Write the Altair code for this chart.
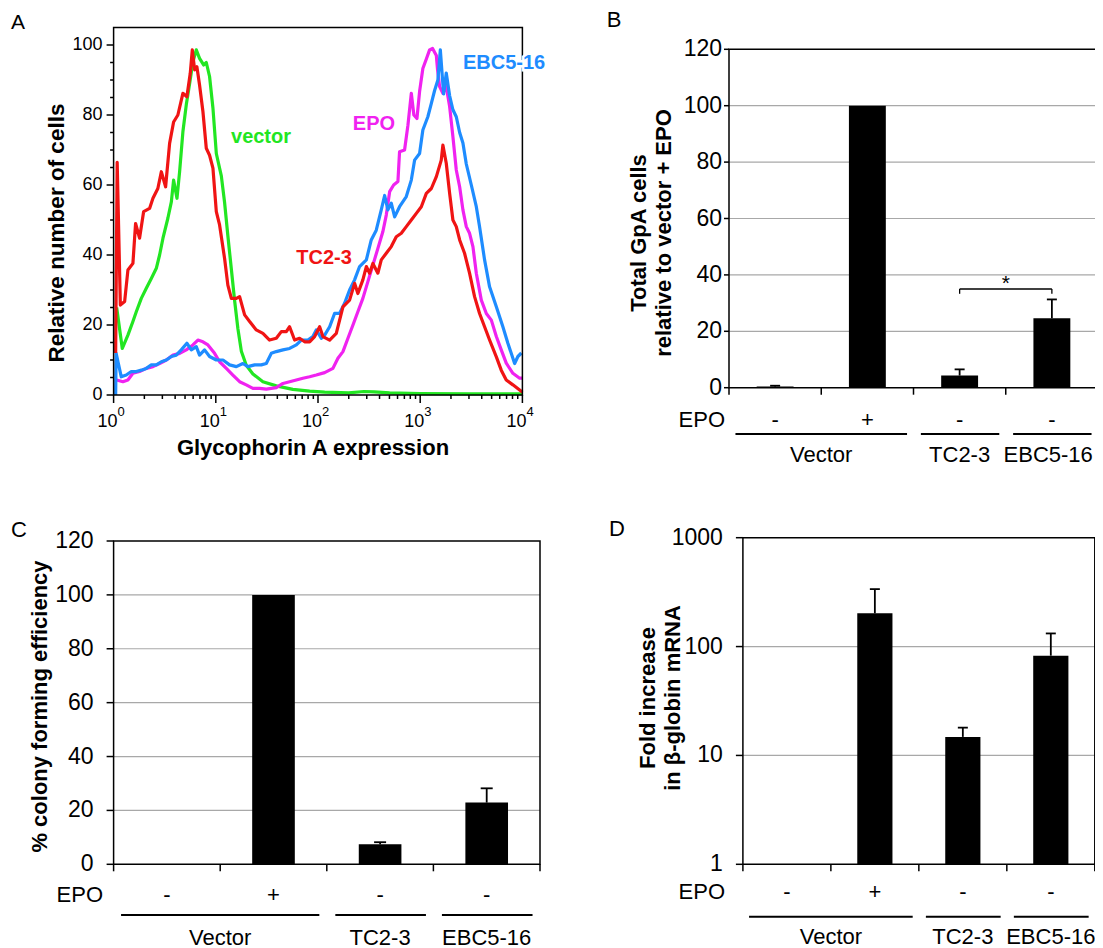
import altair as alt
import pandas as pd

# ---------------- Panel A: GpA histograms (x = log10 expression, y = relative cells) ----------------
vector_lx = [0.030, 0.085, 0.140, 0.189, 0.222, 0.271, 0.320, 0.369, 0.418, 0.450, 0.483, 0.531, 0.565, 0.587,
             0.620, 0.646, 0.678, 0.711, 0.744, 0.776, 0.809, 0.841, 0.881, 0.907, 0.939, 0.972, 1.005, 1.054,
             1.086, 1.118, 1.152, 1.184, 1.216, 1.250, 1.298, 1.363, 1.461, 1.592, 1.754, 1.918, 2.065, 2.300,
             2.450, 2.550, 2.700, 3.000, 3.500, 4.000]
vector_y = [25, 13.3, 17.1, 21, 23.8, 27.6, 30.5, 33.3, 36.2, 40, 44.8, 50.5, 55.2, 61.4, 56.2, 63.8, 75.2, 82.9,
            89, 95.2, 98.6, 96.2, 94.3, 95, 91, 82, 69, 62.6, 55, 45.5, 36, 27, 19, 12.5, 8.5, 6, 3.8, 2.6, 1.6,
            1.1, 0.8, 0.6, 1.0, 0.9, 0.6, 0.4, 0.3, 0.3]

epo_lx = [0.030, 0.091, 0.140, 0.189, 0.254, 0.320, 0.385, 0.450, 0.516, 0.581, 0.646, 0.711, 0.776, 0.825, 0.874,
          0.923, 0.988, 1.037, 1.103, 1.167, 1.233, 1.298, 1.363, 1.429, 1.494, 1.592, 1.657, 1.722, 1.788, 1.852,
          1.918, 1.983, 2.065, 2.146, 2.195, 2.244, 2.293, 2.342, 2.390, 2.439, 2.488, 2.537, 2.586, 2.635, 2.668,
          2.701, 2.740, 2.782, 2.798, 2.847, 2.880, 2.913, 2.938, 2.968, 2.994, 3.026, 3.060, 3.092, 3.121, 3.158,
          3.170, 3.190, 3.222, 3.255, 3.288, 3.320, 3.353, 3.386, 3.418, 3.451, 3.483, 3.516, 3.549, 3.598, 3.647,
          3.696, 3.745, 3.793, 3.842, 3.907, 3.973, 4.000]
epo_y = [4.3, 3.8, 4.3, 6.2, 6.7, 7.6, 8.1, 9, 10, 11.4, 11.9, 12.9, 14.3, 15.7, 15.2, 14.3, 11.9, 9.5, 7.6, 5.7,
         3.8, 2.9, 1.9, 1.9, 1.7, 2.1, 3.3, 3.8, 4.3, 4.8, 5.2, 5.7, 6.4, 7.6, 10.5, 12.4, 16.2, 20, 23.8, 27.6,
         32.4, 37.1, 41.9, 46.7, 51.4, 58.1, 60, 61, 69.5, 70, 77.1, 86.2, 80, 79, 86.7, 93.3, 96, 98.6, 99, 97,
         92.9, 88.1, 86.2, 88.1, 82.4, 73.8, 64.3, 59.5, 52.9, 48.1, 46.2, 42.4, 34.8, 27.1, 23.3, 21.4, 16.7,
         12.9, 9.1, 6.2, 4.8, 4.8]

tc_lx = [0.020, 0.035, 0.066, 0.108, 0.140, 0.189, 0.215, 0.254, 0.294, 0.352, 0.385, 0.433, 0.467, 0.509, 0.548,
         0.587, 0.629, 0.678, 0.717, 0.750, 0.770, 0.793, 0.815, 0.841, 0.874, 0.907, 0.939, 0.972, 1.005, 1.037,
         1.086, 1.118, 1.152, 1.201, 1.233, 1.282, 1.331, 1.396, 1.461, 1.526, 1.592, 1.641, 1.690, 1.722, 1.771,
         1.820, 1.869, 1.918, 1.967, 2.016, 2.048, 2.114, 2.179, 2.244, 2.309, 2.358, 2.390, 2.439, 2.473, 2.505,
         2.537, 2.586, 2.619, 2.668, 2.717, 2.766, 2.815, 2.864, 2.913, 2.962, 3.011, 3.060, 3.109, 3.158, 3.206,
         3.222, 3.255, 3.288, 3.320, 3.353, 3.386, 3.434, 3.483, 3.532, 3.581, 3.630, 3.679, 3.745, 3.793, 3.842,
         3.907, 3.973, 4.000]
tc_y = [12, 66.5, 25.7, 26.7, 35.7, 37.6, 49, 44.8, 52.4, 53.3, 56.2, 59, 63.8, 59.5, 71.9, 78, 80, 86.2, 85.2,
        91.9, 98.6, 92.9, 93.8, 88.6, 81, 70.5, 68.5, 64.8, 52.4, 48.6, 39, 31.4, 27.6, 27.6, 28.1, 22.9, 21, 18.6,
        17.6, 15.7, 16.2, 18.1, 18.1, 19.5, 15.7, 16.2, 15.2, 15.2, 16.7, 19.5, 16.7, 15.7, 17.6, 25.2, 27.1, 31.9,
        29, 32.9, 36.7, 34.8, 37.6, 34.8, 38.6, 40.5, 42.4, 45.2, 46.2, 48.1, 50, 51.9, 53.8, 57.6, 59, 62.4, 67.1,
        71.4, 66.2, 57.6, 50, 48.1, 44.3, 40.5, 34.8, 28.1, 23.3, 19.5, 15.7, 10.9, 7.1, 4.3, 2.9, 1.4, 0.8]

ebc_lx = [0.020, 0.025, 0.075, 0.124, 0.173, 0.222, 0.271, 0.320, 0.369, 0.418, 0.467, 0.516, 0.565, 0.613, 0.662,
          0.717, 0.760, 0.809, 0.841, 0.890, 0.939, 1.005, 1.070, 1.135, 1.201, 1.265, 1.314, 1.380, 1.445, 1.494,
          1.543, 1.592, 1.657, 1.722, 1.788, 1.837, 1.901, 1.950, 1.983, 2.032, 2.065, 2.114, 2.162, 2.211, 2.260,
          2.309, 2.358, 2.407, 2.473, 2.521, 2.570, 2.619, 2.652, 2.684, 2.717, 2.750, 2.798, 2.864, 2.913, 2.945,
          2.994, 3.026, 3.075, 3.109, 3.141, 3.173, 3.197, 3.229, 3.255, 3.288, 3.320, 3.353, 3.386, 3.418, 3.451,
          3.500, 3.549, 3.581, 3.630, 3.679, 3.745, 3.809, 3.858, 3.924, 3.956, 3.990]
ebc_y = [0, 11.9, 5.2, 5.7, 6.7, 6.7, 7.1, 7.6, 8.6, 8.6, 9.5, 10, 11, 11.4, 12.9, 14.8, 12.9, 13.8, 11.4, 12.9,
         11, 10, 10, 8.6, 8.1, 9, 8.1, 8.6, 8.6, 9, 11.9, 12.4, 12.9, 13.3, 14.3, 15.7, 15.7, 16.7, 18.6, 16.2,
         17.1, 19.5, 23.3, 23.3, 26.2, 30, 32.9, 36.7, 38.6, 44.3, 47.1, 52.9, 57, 52.9, 54.8, 50.9, 53.8, 56.7,
         61.4, 67.1, 69, 75.7, 79.5, 83.3, 87, 90, 98.6, 86, 92, 85.5, 81.5, 79.5, 75, 72, 66, 60, 53.8, 48.1,
         38.6, 30.9, 25.2, 19.5, 14.8, 9, 11, 12]

a_y_major = [0, 20, 40, 60, 80, 100]
a_y_minor = [5, 10, 15, 25, 30, 35, 45, 50, 55, 65, 70, 75, 85, 90, 95]
a_x_major = [1, 10, 100, 1000, 10000]
a_x_exponents = ["0", "1", "2", "3", "4"]
a_x_minor = [2, 3, 4, 5, 6, 7, 8, 9, 20, 30, 40, 50, 60, 70, 80, 90,
             200, 300, 400, 500, 600, 700, 800, 900, 2000, 3000, 4000, 5000, 6000, 7000, 8000, 9000]

# ---------------- Panels B-D: bar charts ----------------
bar_positions = [0, 1, 2, 3]
epo_signs = ["-", "+", "-", "-"]
group_labels = ["Vector", "TC2-3", "EBC5-16"]
group_centers = [1.0, 2.5, 3.5]
group_centers_b = [1.0, 2.5, 3.46]
group_start = [0.07, 2.08, 3.08]
group_end = [1.93, 2.93, 3.93]
boundaries = [0, 1, 2, 3, 4]

b_values = [0.4, 100, 4.3, 24.6]
b_errors = [0.3, 0, 2.2, 6.7]
b_ticks = [0, 20, 40, 60, 80, 100, 120]
b_grid = [20, 40, 60, 80, 100]

c_values = [0, 100, 7.4, 22.9]
c_errors = [0, 0, 0.8, 5.3]
c_ticks = [0, 20, 40, 60, 80, 100, 120]
c_grid = [20, 40, 60, 80, 100]

d_values = [1, 202, 14.8, 82.5]
d_errors = [0, 135, 3.2, 49.5]
d_ticks = [1, 10, 100, 1000]
d_grid = [10, 100]

FONT = "Liberation Sans"
GRID = "#a8a8a8"
COL_VECTOR = "#22e622"
COL_EPO = "#f022f0"
COL_TC = "#f01414"
COL_EBC = "#1e8cff"


def P(v):
    return v - 8


def df(**cols):
    return pd.DataFrame(cols)


def xd(v, s):
    return alt.XDatum(v, type="quantitative", scale=s, axis=None)


def yd(v, s):
    return alt.YDatum(v, type="quantitative", scale=s, axis=None)


def xq(f, s):
    return alt.X(f, type="quantitative", scale=s, axis=None)


def yq(f, s):
    return alt.Y(f, type="quantitative", scale=s, axis=None)


def text_at(t, x, y, size=22, weight="normal", align="center", angle=0, color="black", baseline="middle"):
    mk = dict(font=FONT, fontSize=size, fontWeight=weight, align=align, baseline=baseline, color=color)
    if angle:
        mk["angle"] = angle
    return alt.Chart(df(t=[t])).mark_text(**mk).encode(x=alt.value(x), y=alt.value(y), text="t:N")


def frame(xs, ys, x0, x1, y0, y1):
    return alt.Chart(df(x0=[x0], x1=[x1], y0=[y0], y1=[y1])).mark_rect(
        fill="white", fillOpacity=0, stroke="black", strokeWidth=1.5
    ).encode(x=xq("x0", xs), x2="x1:Q", y=yq("y0", ys), y2="y1:Q")


def y_ticks(xs, ys, x_at, vals, length, width=1.5):
    return alt.Chart(df(v=vals)).mark_rule(color="black", strokeWidth=width, xOffset=-length).encode(
        x=xd(x_at, xs), x2=alt.X2Datum(x_at), y=yq("v", ys))


def x_ticks(xs, ys, y_at, vals, length, width=1.5):
    return alt.Chart(df(v=vals)).mark_rule(color="black", strokeWidth=width, y2Offset=length).encode(
        x=xq("v", xs), y=yd(y_at, ys), y2=alt.Y2Datum(y_at))


def y_labels(xs, ys, x_at, vals, off, size):
    return alt.Chart(df(v=vals, t=[str(v) for v in vals])).mark_text(
        align="right", baseline="middle", xOffset=-off, font=FONT, fontSize=size, color="black"
    ).encode(x=xd(x_at, xs), y=yq("v", ys), text="t:N")


def h_grid(xs, ys, x0, x1, vals):
    return alt.Chart(df(v=vals)).mark_rule(color=GRID, strokeWidth=1.2).encode(
        x=xd(x0, xs), x2=alt.X2Datum(x1), y=yq("v", ys))


layers = []

# ================= Panel A =================
axs = alt.Scale(type="log", domain=[1, 10000], range=[P(113.6), P(522.4)])
ays = alt.Scale(domain=[0, 105], range=[P(395), P(27.5)])

for lx, yy, col in [(vector_lx, vector_y, COL_VECTOR), (epo_lx, epo_y, COL_EPO),
                    (ebc_lx, ebc_y, COL_EBC), (tc_lx, tc_y, COL_TC)]:
    layers.append(
        alt.Chart(df(lx=lx, y=yy)).transform_calculate(x="pow(10, datum.lx)")
        .mark_line(color=col, strokeWidth=3.2, strokeJoin="round")
        .encode(x=xq("x", axs), y=yq("y", ays), order="lx:Q")
    )

layers.append(frame(axs, ays, 1, 10000, 0, 105))
layers.append(y_ticks(axs, ays, 1, a_y_major, 7))
layers.append(y_ticks(axs, ays, 1, a_y_minor, 3.5))
layers.append(x_ticks(axs, ays, 0, a_x_major, 8))
layers.append(x_ticks(axs, ays, 0, a_x_minor, 4))
layers.append(y_labels(axs, ays, 1, a_y_major, 11, 18))
layers.append(
    alt.Chart(df(v=a_x_major, t=["10"] * len(a_x_major))).mark_text(
        align="center", baseline="middle", xOffset=-6, yOffset=27, font=FONT, fontSize=18, color="black"
    ).encode(x=xq("v", axs), y=yd(0, ays), text="t:N")
)
layers.append(
    alt.Chart(df(v=a_x_major, t=a_x_exponents)).mark_text(
        align="left", baseline="middle", xOffset=4, yOffset=17, font=FONT, fontSize=13, color="black"
    ).encode(x=xq("v", axs), y=yd(0, ays), text="t:N")
)
layers.append(text_at("Glycophorin A expression", P(313), P(448), size=22, weight="bold"))
layers.append(text_at("Relative number of cells", P(57), P(233), size=22.5, weight="bold", angle=270))

# curve labels (placed in data space)
lab_df = df(x=[27.7, 353, 114.5], y=[73.7, 77.4, 39.1], t=["vector", "EPO", "TC2-3"])
for i, col in enumerate([COL_VECTOR, COL_EPO, COL_TC]):
    layers.append(
        alt.Chart(lab_df.iloc[[i]]).mark_text(font=FONT, fontSize=20, fontWeight="bold", color=col,
                                              align="center", baseline="middle")
        .encode(x=xq("x", axs), y=yq("y", ays), text="t:N")
    )
ebc_df = df(x=[2620], y=[94.9], t=["EBC5-16"])
layers.append(
    alt.Chart(ebc_df).mark_text(font=FONT, fontSize=20, fontWeight="bold", color="white", stroke="white",
                                strokeWidth=5, align="left", baseline="middle")
    .encode(x=xq("x", axs), y=yq("y", ays), text="t:N")
)
layers.append(
    alt.Chart(ebc_df).mark_text(font=FONT, fontSize=20, fontWeight="bold", color=COL_EBC,
                                align="left", baseline="middle")
    .encode(x=xq("x", axs), y=yq("y", ays), text="t:N")
)


# ================= Bar panels helper =================
def bar_panel(xs, ys, values, errors, ticks, grid, ymin, ymax, tick_len, lab_off,
              epo_x, epo_y, line_y, group_y, cap=10, centers=group_centers):
    out = []
    out.append(h_grid(xs, ys, 0, 4, grid))
    bars = df(pos=bar_positions, val=values, base=[ymin] * 4)
    out.append(
        alt.Chart(bars).transform_calculate(x0="datum.pos + 0.3", x1="datum.pos + 0.7")
        .mark_rect(color="black")
        .encode(x=xq("x0", xs), x2="x1:Q", y=yq("val", ys), y2="base:Q")
    )
    out.append(frame(xs, ys, 0, 4, ymin, ymax))
    errs = df(pos=bar_positions, val=values, err=errors)
    errs = errs[errs["err"] > 0]
    out.append(
        alt.Chart(errs).transform_calculate(xc="datum.pos + 0.5", top="datum.val + datum.err")
        .mark_rule(color="black", strokeWidth=1.8)
        .encode(x=xq("xc", xs), y=yq("val", ys), y2="top:Q")
    )
    out.append(
        alt.Chart(errs).transform_calculate(xc="datum.pos + 0.5", top="datum.val + datum.err")
        .mark_rule(color="black", strokeWidth=1.8, xOffset=-cap / 2, x2Offset=cap / 2)
        .encode(x=xq("xc", xs), x2="xc:Q", y=yq("top", ys))
    )
    out.append(y_ticks(xs, ys, 0, ticks, tick_len))
    out.append(x_ticks(xs, ys, ymin, boundaries, 7))
    out.append(y_labels(xs, ys, 0, ticks, lab_off, 23))
    # EPO row
    out.append(text_at("EPO", epo_x, epo_y, size=22, align="right"))
    out.append(
        alt.Chart(df(pos=bar_positions, t=epo_signs)).transform_calculate(xc="datum.pos + 0.5")
        .mark_text(font=FONT, fontSize=22, color="black", align="center", baseline="middle")
        .encode(x=xq("xc", xs), y=alt.value(epo_y), text="t:N")
    )
    out.append(
        alt.Chart(df(a=group_start, b=group_end)).mark_rule(color="black", strokeWidth=2)
        .encode(x=xq("a", xs), x2="b:Q", y=alt.value(line_y))
    )
    out.append(
        alt.Chart(df(c=centers, t=group_labels))
        .mark_text(font=FONT, fontSize=22, color="black", align="center", baseline="middle")
        .encode(x=xq("c", xs), y=alt.value(group_y), text="t:N")
    )
    return out


# ================= Panel B =================
bxs = alt.Scale(domain=[0, 4], range=[P(729), P(1098)])
bys = alt.Scale(domain=[0, 120], range=[P(387.7), P(49.3)])
layers += bar_panel(bxs, bys, b_values, b_errors, b_ticks, b_grid, 0, 120, 5, 7,
                    P(725), P(420), P(434), P(455), centers=group_centers_b)
# significance bracket
brk = df(x0=[2.5, 2.5, 3.5], x1=[3.5, 2.5, 3.5], y0=[35, 35, 35], y1=[35, 33.3, 33.3])
layers.append(
    alt.Chart(brk).mark_rule(color="black", strokeWidth=1.3)
    .encode(x=xq("x0", bxs), x2="x1:Q", y=yq("y0", bys), y2="y1:Q")
)
layers.append(
    alt.Chart(df(x=[3.0], y=[36.8], t=["*"])).mark_text(font=FONT, fontSize=21, color="black",
                                                        align="center", baseline="middle")
    .encode(x=xq("x", bxs), y=yq("y", bys), text="t:N")
)
layers.append(text_at("Total GpA cells", P(639), P(233), size=22, weight="bold", angle=270))
layers.append(text_at("relative to vector + EPO", P(664), P(233), size=22, weight="bold", angle=270))

# ================= Panel C =================
cxs = alt.Scale(domain=[0, 4], range=[P(113.6), P(540)])
cys = alt.Scale(domain=[0, 120], range=[P(864.3), P(541)])
layers += bar_panel(cxs, cys, c_values, c_errors, c_ticks, c_grid, 0, 120, 7, 20,
                    P(103), P(895), P(915), P(937.5), cap=12)
layers.append(text_at("% colony forming efficiency", P(40), P(706.5), size=22, weight="bold", angle=270))

# ================= Panel D =================
dxs = alt.Scale(domain=[0, 4], range=[P(742.9), P(1094.8)])
dys = alt.Scale(type="log", domain=[1, 1000], range=[P(864.3), P(537.7)])
layers += bar_panel(dxs, dys, d_values, d_errors, d_ticks, d_grid, 1, 1000, 7, 20,
                    P(725), P(891.7), P(916.7), P(937))
layers.append(text_at("Fold increase", P(648), P(698), size=22, weight="bold", angle=270))
layers.append(text_at("in β-globin mRNA", P(673), P(698), size=22, weight="bold", angle=270))

# ================= Panel letters =================
layers.append(text_at("A", P(18), 3.5, size=21, baseline="top"))
layers.append(text_at("B", P(614), P(20), size=22))
layers.append(text_at("C", P(19), P(530), size=22))
layers.append(text_at("D", P(617), P(529), size=22))

chart = (
    alt.layer(*layers)
    .resolve_scale(x="independent", y="independent")
    .properties(width=1087, height=940, padding=0, autosize=alt.AutoSizeParams(type="none"),
                background="white")
    .configure_view(strokeWidth=0)
)

chart.save("out.html", embed_options={"renderer": "svg", "actions": False})
